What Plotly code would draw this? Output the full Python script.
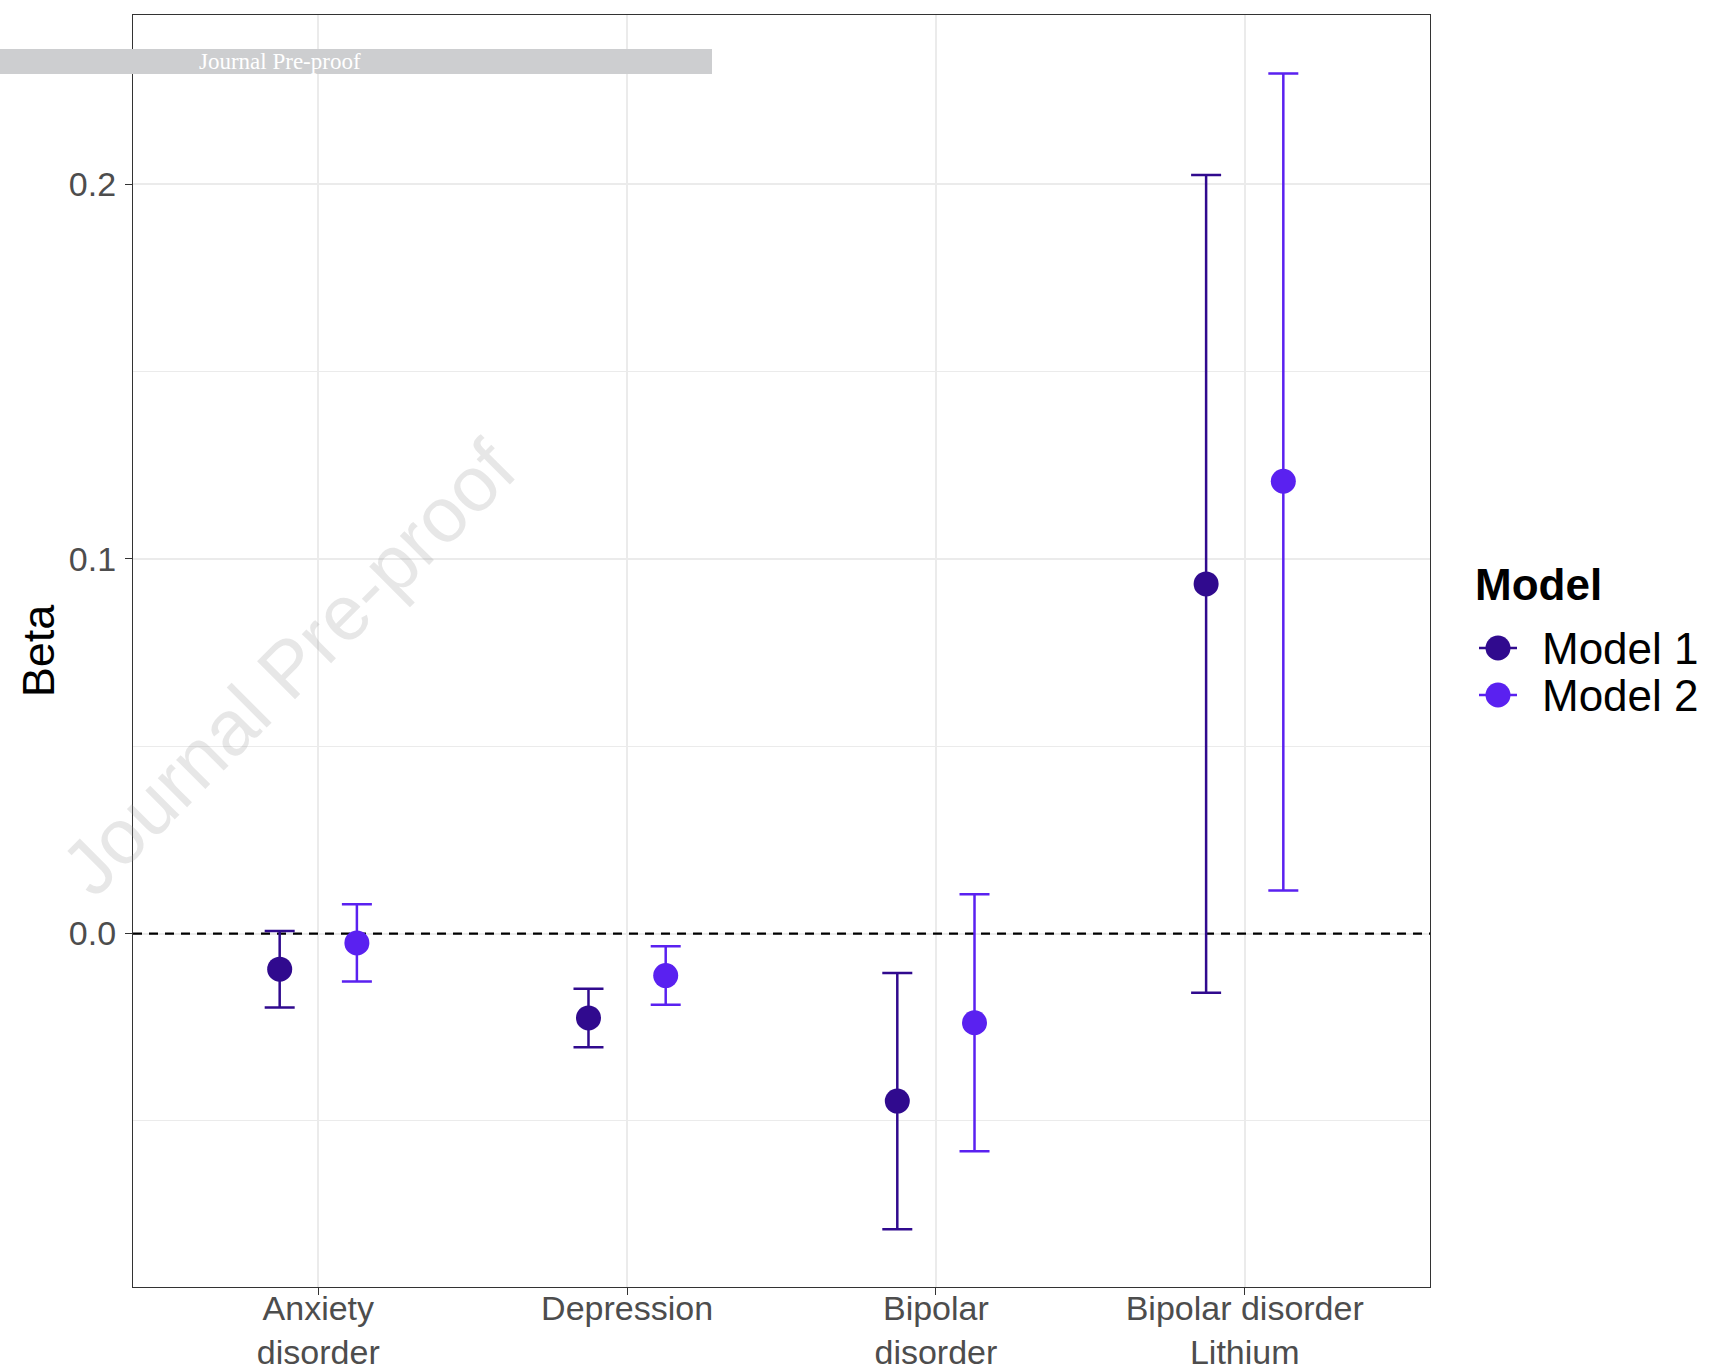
import plotly.graph_objects as go

# Outcome categories along the x axis
categories = ["Anxiety disorder", "Depression", "Bipolar disorder", "Bipolar disorder Lithium"]
tick_labels = ["Anxiety<br>disorder", "Depression", "Bipolar<br>disorder", "Bipolar disorder<br>Lithium"]
models = ["Model 1", "Model 2"]

# Beta estimates with 95% confidence limits
beta_m1 = [-0.0095, -0.0225, -0.0447, 0.0933]
lower_m1 = [-0.0197, -0.0303, -0.0789, -0.0158]
upper_m1 = [0.0007, -0.0147, -0.0105, 0.2024]

beta_m2 = [-0.0025, -0.0112, -0.0238, 0.1207]
lower_m2 = [-0.0128, -0.0190, -0.0581, 0.0115]
upper_m2 = [0.0078, -0.0034, 0.0105, 0.2295]

y_ticks = [0.0, 0.1, 0.2]
y_minor = [-0.05, 0.05, 0.15]
x_range = [-0.6, 3.6]
y_range = [-0.0943, 0.2451]

colors = {"Model 1": "#300A8E", "Model 2": "#5A21F0"}
dodge = 0.125

# Figure geometry (pixels)
W, H = 1712, 1372
ML, MR, MT, MB = 133, 282, 15, 85
PW, PH = W - ML - MR, H - MT - MB


def px_x(p):
    return (p - ML) / PW


def px_y(p):
    return (H - MB - p) / PH


fig = go.Figure()

# Dashed reference line at zero, drawn under the points
fig.add_trace(go.Scatter(
    x=x_range, y=[0, 0], mode="lines",
    line=dict(color="black", width=2.2, dash="9px,7px"),
    hoverinfo="skip", showlegend=False,
))

series = [
    ("Model 1", beta_m1, lower_m1, upper_m1, -dodge),
    ("Model 2", beta_m2, lower_m2, upper_m2, dodge),
]
for name, beta, lo, hi, off in series:
    fig.add_trace(go.Scatter(
        x=[i + off for i in range(len(categories))],
        y=beta,
        mode="markers",
        name=name,
        customdata=categories,
        marker=dict(size=25, color=colors[name]),
        error_y=dict(
            type="data",
            symmetric=False,
            array=[h - b for h, b in zip(hi, beta)],
            arrayminus=[b - l for b, l in zip(beta, lo)],
            color=colors[name],
            thickness=2.5,
            width=15,
        ),
        showlegend=False,
        hovertemplate="%{customdata}<br>" + name + ": %{y:.3f}<extra></extra>",
    ))

axis_line = dict(showline=True, mirror=True, linecolor="#333333", linewidth=1.3,
                 ticks="outside", ticklen=7, tickwidth=1.3, tickcolor="#333333",
                 zeroline=False, automargin=False)

fig.update_layout(
    width=W, height=H,
    margin=dict(l=ML, r=MR, t=MT, b=MB, pad=0),
    plot_bgcolor="white", paper_bgcolor="white",
    font=dict(family="Liberation Sans, Arial, sans-serif"),
    showlegend=False,
    xaxis=dict(
        range=x_range,
        tickmode="array", tickvals=list(range(len(categories))), ticktext=tick_labels,
        tickfont=dict(size=34, color="#4D4D4D"),
        ticklabelstandoff=-16,
        showgrid=True, gridcolor="#EBEBEB", gridwidth=2.2,
        **axis_line,
    ),
    yaxis=dict(
        range=y_range,
        tickmode="array", tickvals=y_ticks, tickformat=".1f",
        tickfont=dict(size=34, color="#4D4D4D"),
        ticklabelstandoff=2,
        showgrid=True, gridcolor="#EBEBEB", gridwidth=2.2,
        minor=dict(tickmode="array", tickvals=y_minor, showgrid=True,
                   gridcolor="#EBEBEB", gridwidth=1.1, ticks=""),
        title=dict(text="Beta", font=dict(size=45, color="black"), standoff=0),
        **axis_line,
    ),
)

# Legend drawn beside the panel
r_x, r_y = 12.5 / PW, 12.5 / PH
fig.add_annotation(text="<b>Model</b>", xref="paper", yref="paper",
                   x=px_x(1473), y=px_y(584), xanchor="left", yanchor="middle",
                   showarrow=False, font=dict(size=44, color="black"))
for name, yc in zip(models, [648, 695]):
    fig.add_shape(type="line", xref="paper", yref="paper",
                  x0=px_x(1479), x1=px_x(1517), y0=px_y(yc), y1=px_y(yc),
                  line=dict(color=colors[name], width=2.5))
    fig.add_shape(type="circle", xref="paper", yref="paper",
                  x0=px_x(1498) - r_x, x1=px_x(1498) + r_x,
                  y0=px_y(yc) - r_y, y1=px_y(yc) + r_y,
                  fillcolor=colors[name], line=dict(width=0))
    fig.add_annotation(text=name, xref="paper", yref="paper",
                       x=px_x(1540), y=px_y(yc), xanchor="left", yanchor="middle",
                       showarrow=False, font=dict(size=44, color="black"))

# Diagonal watermark
fig.add_annotation(text="Journal Pre-proof", xref="paper", yref="paper",
                   x=px_x(288), y=px_y(668), xanchor="center", yanchor="middle",
                   textangle=-45, showarrow=False,
                   font=dict(size=78, color="rgba(150,150,150,0.23)",
                             family="Liberation Sans, Arial, sans-serif"))

# Header banner
fig.add_shape(type="rect", xref="paper", yref="paper",
              x0=px_x(0), x1=px_x(712), y0=px_y(74), y1=px_y(49),
              fillcolor="#CDCED0", line=dict(width=0), layer="above")
fig.add_annotation(text="Journal Pre-proof", xref="paper", yref="paper",
                   x=px_x(280), y=px_y(61.5), showarrow=False,
                   xanchor="center", yanchor="middle",
                   font=dict(size=23, color="white",
                             family="Liberation Serif, Times New Roman, serif"))

fig.write_html("out.html")
